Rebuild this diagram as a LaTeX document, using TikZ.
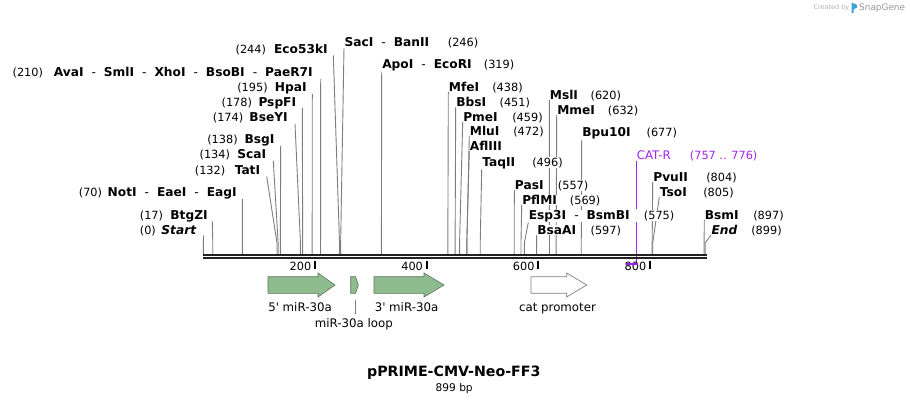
\documentclass[tikz,border=0pt]{standalone}
\usepackage{fontspec}
\setmainfont{DejaVu Sans}
\usetikzlibrary{calc}
\pgfdeclarelayer{bg}
\pgfsetlayers{bg,main}
\definecolor{sitec}{RGB}{125,125,125}
\definecolor{catr}{RGB}{160,32,240}
\definecolor{featg}{RGB}{143,188,143}
\definecolor{featgd}{RGB}{90,115,90}
\definecolor{bbc}{RGB}{34,34,34}
\definecolor{sgray}{RGB}{175,175,175}
\definecolor{sgdark}{RGB}{150,150,150}
\definecolor{sgblue}{RGB}{60,160,220}
\tikzset{
  nm/.style={font=\fontsize{12.2}{14}\selectfont\bfseries, fill=white, inner sep=0.4pt},
  num/.style={font=\fontsize{11.3}{13}\selectfont, fill=white, inner sep=0.4pt},
  siteline/.style={draw=sitec, line width=0.9pt},
  featlbl/.style={font=\fontsize{11.8}{14}\selectfont, inner sep=0.5pt, anchor=base},
  ticklbl/.style={font=\fontsize{11.3}{13}\selectfont, inner sep=0.3pt, anchor=base east},
  bbline/.style={draw=bbc, line width=2pt},
  tickl/.style={draw=black, line width=2pt},
  garrow/.style={fill=featg, draw=featgd, line width=0.6pt},
  warrow/.style={fill=white, draw=sitec, line width=0.7pt},
}
\newcommand\hy{\hspace{8pt}{\mdseries -}\hspace{8pt}}
\newcommand\LLab[6]{\node[nm,anchor=base east] (#1) at (#3,#4+4.3) {#5};
  \node[num,anchor=base west] (#1n) at (#2,#4+4.3) {#6};}
\newcommand\RLab[6]{\node[nm,anchor=base west] (#1) at (#2,#3+4.3) {#4};
  \node[num,anchor=base west] (#1n) at (#5,#3+4.3) {#6};
  \coordinate (#1t) at (#1.south west);}
\newcommand\LTop[3]{\coordinate (#1t) at (#2,#3+6.5);}
\newcommand\Conn[2]{\coordinate (#1b) at ({203.3+#2*0.5583},243);
  \coordinate (#1s) at ({203.3+#2*0.5583},254);
  \begin{pgfonlayer}{bg}\draw[siteline] (#1t) -- (#1b) -- (#1s);\end{pgfonlayer}}
\begin{document}
\begin{tikzpicture}[x=1pt,y=-1pt]
\useasboundingbox (0,0) rectangle (910,404);
% ---------- left labels ----------
\LLab{eco}{235}{328.3}{49}{Eco53kI}{(244)}\LTop{eco}{333.3}{49}\Conn{eco}{244}
\LLab{ava}{12}{313.3}{72.3}{AvaI\hy SmlI\hy XhoI\hy BsoBI\hy PaeR7I}{(210)}\LTop{ava}{320.7}{72.3}\Conn{ava}{210}
\LLab{hpa}{236.7}{307.3}{87.7}{HpaI}{(195)}\LTop{hpa}{312.3}{87.7}\Conn{hpa}{195}
\LLab{psp}{221}{296.7}{101.7}{PspFI}{(178)}\LTop{psp}{302.3}{101.7}\Conn{psp}{178}
\LLab{bse}{212.3}{288.3}{117.3}{BseYI}{(174)}\LTop{bse}{295}{117.3}\Conn{bse}{174}
\LLab{bsg}{206.7}{275}{139}{BsgI}{(138)}\LTop{bsg}{280.7}{139}\Conn{bsg}{138}
\LLab{sca}{199}{266.7}{154.3}{ScaI}{(134)}\LTop{sca}{273.3}{154.3}\Conn{sca}{134}
\LLab{tat}{194.3}{260.7}{170}{TatI}{(132)}\LTop{tat}{266.7}{170}\Conn{tat}{132}
\LLab{not}{78.3}{237.3}{192.3}{NotI\hy EaeI\hy EagI}{(70)}\LTop{not}{242.3}{192.3}\Conn{not}{70}
\LLab{btg}{139.3}{208.3}{215}{BtgZI}{(17)}\LTop{btg}{212.3}{215}\Conn{btg}{17}
\LLab{sta}{139.3}{196.7}{230}{\itshape Start}{(0)}\LTop{sta}{203.6}{229}\Conn{sta}{0}
% ---------- right labels ----------
\RLab{sac}{344}{42.7}{SacI\hy BanII}{447.3}{(246)}\Conn{sac}{246}
\RLab{apo}{381.7}{64.3}{ApoI\hy EcoRI}{483.3}{(319)}\Conn{apo}{319}
\RLab{mfe}{448.3}{86.7}{MfeI}{491.7}{(438)}\Conn{mfe}{438}
\RLab{bbs}{455.7}{101.7}{BbsI}{499}{(451)}\Conn{bbs}{451}
\RLab{pme}{462.7}{116.7}{PmeI}{511.7}{(459)}\Conn{pme}{459}
\RLab{mlu}{469.3}{131}{MluI}{512.7}{(472)}\Conn{mlu}{472}
\node[nm,anchor=base west] (afl) at (469.3,150.3) {AflIII};
\coordinate (aflt) at (afl.south west);\Conn{afl}{472}
\RLab{taq}{481.7}{162}{TaqII}{531.7}{(496)}\Conn{taq}{496}
\RLab{msl}{549.3}{95}{MslI}{590}{(620)}\Conn{msl}{620}
\RLab{mme}{556.7}{110}{MmeI}{607.3}{(632)}\Conn{mme}{632}
\RLab{bpu}{581.7}{132.3}{Bpu10I}{646}{(677)}\Conn{bpu}{677}
\RLab{pas}{514.3}{185}{PasI}{557.3}{(557)}\Conn{pas}{557}
\RLab{pfl}{521.7}{200}{PflMI}{569.3}{(569)}\Conn{pfl}{569}
\RLab{esp}{528.3}{215}{Esp3I\hy BsmBI}{643.3}{(575)}\Conn{esp}{575}
\RLab{bsa}{536.7}{230}{BsaAI}{590}{(597)}\Conn{bsa}{597}
\RLab{pvu}{652.7}{176.7}{PvuII}{705.7}{(804)}\Conn{pvu}{804}
\RLab{tso}{659.3}{191.7}{TsoI}{702.7}{(805)}\Conn{tso}{805}
\RLab{bsm}{704.3}{215}{BsmI}{752.7}{(897)}\Conn{bsm}{897}
\RLab{end}{711}{230}{\itshape End}{750.7}{(899)}\Conn{end}{899}
% ---------- CAT-R primer ----------
\node[num,fill=none,text=catr,font=\fontsize{11.8}{14}\selectfont,anchor=base west] (cat) at (636.2,159.3) {CAT-R};
\node[num,fill=none,text=catr,anchor=base west] (catn) at (689.3,159.3) {(757 .. 776)};
\coordinate (catt) at (636.7,161);
\coordinate (catb) at (636.7,264);
\coordinate (catl) at (626,264);
\coordinate (catr) at (637.6,264);
\begin{pgfonlayer}{bg}\draw[catr,line width=1.5pt] (catt) -- (catb);\end{pgfonlayer}
\fill[white] ([yshift=0.5pt]esp.north east) rectangle ([yshift=-0.5pt]espn.south west);
% ---------- backbone ----------
\coordinate (bbL) at (203.3,254.6); \coordinate (bbR) at (706.7,254.6);
\coordinate (bbL2) at (203.3,258.4); \coordinate (bbR2) at (706.7,258.4);
\draw[bbline] (bbL) -- (bbR);
\draw[bbline] (bbL2) -- (bbR2);
% ticks
\foreach \v/\xx in {200/315.0,400/426.7,600/538.3,800/650.0}{
  \coordinate (t\v a) at (\xx,260.5); \coordinate (t\v b) at (\xx,268.5);
  \draw[tickl] (t\v a) -- (t\v b);
  \node[ticklbl] (tl\v) at (\xx-3.3,270.8) {\v};
}
\draw[catr,line width=2pt] (catl) -- (catr);
% ---------- features ----------
\draw[garrow] (268,276.7) -- (318,276.7) -- (318,273) -- (335,285) -- (318,297) -- (318,293.3) -- (268,293.3) -- cycle;
\draw[garrow] (350.7,276.7) -- (355.5,276.7) -- (358.3,285) -- (355.5,293.3) -- (350.7,293.3) -- cycle;
\draw[garrow] (374,276.7) -- (424,276.7) -- (424,273) -- (444,285) -- (424,297) -- (424,293.3) -- (374,293.3) -- cycle;
\draw[warrow] (531,276.7) -- (566.7,276.7) -- (566.7,273) -- (586.7,285) -- (566.7,297) -- (566.7,293.3) -- (531,293.3) -- cycle;
\node[featlbl] (f5) at (300,311) {5\textquotesingle\ miR-30a};
\node[featlbl] (f3) at (406.5,311) {3\textquotesingle\ miR-30a};
\node[featlbl] (fcat) at (557.5,311) {cat promoter};
\node[featlbl] (floop) at (353.8,327) {miR-30a loop};
\coordinate (loopb) at (355,300);
\draw[sitec,line width=0.8pt] (loopb) -- ([yshift=3pt]floop.north -| loopb);
% ---------- title ----------
\node[font=\fontsize{14.2}{16}\selectfont\bfseries, anchor=base] (title) at (453.8,376.2) {pPRIME-CMV-Neo-FF3};
\node[font=\fontsize{10.6}{12}\selectfont, anchor=base] (bp) at (454.2,391.5) {899 bp};
% ---------- credit ----------
\node[font=\fontsize{6.5}{8}\selectfont, text=sgray, anchor=base east, inner sep=0pt] (cb) at (849.5,10) {Created by};
\fill[sgblue] (851.5,2.5) -- (856.8,4.8) -- (856.8,7.6) -- (853.6,9.2) -- (853.6,13) -- (851.5,13) -- cycle;
\node[font=\fontsize{8.9}{10}\selectfont, text=sgdark, anchor=base west, inner sep=0pt] (sg) at (859,10.5) {SnapGene};
\end{tikzpicture}
\end{document}
